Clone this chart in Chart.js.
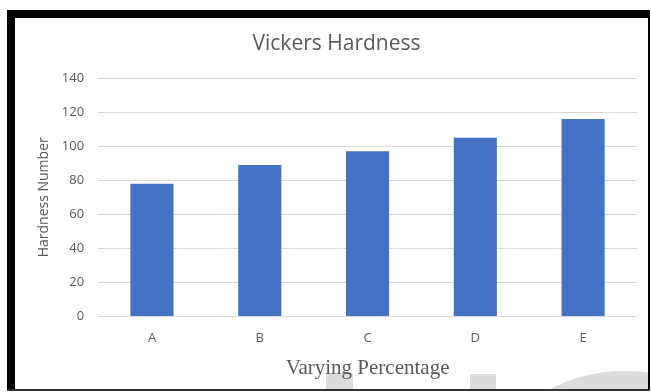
<!DOCTYPE html>
<html>
<head>
<meta charset="utf-8">
<script src="https://cdn.jsdelivr.net/npm/chart.js@4"></script>
<style>
  html, body { margin: 0; padding: 0; background: #fff; }
  #wrap { position: relative; width: 651px; height: 392px; }
  canvas { display: block; }
</style>
</head>
<body>
<div id="wrap"><canvas id="c" width="651" height="392"></canvas></div>
<script>
// Vickers hardness per sample
const categories = ['A', 'B', 'C', 'D', 'E'];
const hardness = [78, 89, 97, 105, 116];
const yTicks = [0, 20, 40, 60, 80, 100, 120, 140];

const textGray = '#595959';
const gridGray = '#d9d9d9';
const barBlue = '#4472C4';

// Light background shapes and the black frame around the figure
const framePlugin = {
  id: 'frame',
  beforeDraw(chart) {
    const ctx = chart.ctx;
    ctx.save();
    ctx.fillStyle = '#fff';
    ctx.fillRect(0, 0, chart.width, chart.height);
    ctx.fillStyle = '#dcdcdc';
    ctx.fillRect(326, 373, 27, 20);
    ctx.fillRect(470, 374, 26, 20);
    ctx.beginPath();
    ctx.ellipse(625, 440, 110, 69, 0, 0, Math.PI * 2);
    ctx.fill();
    ctx.restore();
  },
  afterDraw(chart) {
    const ctx = chart.ctx;
    ctx.save();
    // white strip above the frame
    ctx.fillStyle = '#fff';
    ctx.fillRect(0, 0, chart.width, 10);
    ctx.fillRect(0, 0, 7, chart.height);
    ctx.fillStyle = '#000';
    ctx.fillRect(7, 10, 644, 8);   // top edge
    ctx.fillRect(7, 10, 8, 382);   // left edge
    ctx.fillRect(648, 10, 2, 382); // right edge
    ctx.fillStyle = '#333';
    ctx.fillRect(7, 389, 643, 2);  // bottom edge
    ctx.fillStyle = '#fff';
    ctx.fillRect(650, 0, 1, chart.height);
    ctx.fillRect(0, 391, chart.width, 1);
    ctx.restore();
  }
};

new Chart(document.getElementById('c'), {
  type: 'bar',
  data: {
    labels: categories,
    datasets: [{
      label: 'Hardness Number',
      data: hardness,
      backgroundColor: barBlue,
      borderWidth: 0,
      categoryPercentage: 1.0,
      barPercentage: 0.4
    }]
  },
  options: {
    responsive: false,
    animation: false,
    devicePixelRatio: 1,
    layout: { padding: { left: 36, right: 14, top: 22, bottom: 13 } },
    plugins: {
      legend: { display: false },
      tooltip: { enabled: false },
      title: {
        display: true,
        text: 'Vickers Hardness',
        color: textGray,
        font: { family: 'Open Sans', size: 21, weight: 'normal' },
        padding: { top: 9, bottom: 22 }
      }
    },
    scales: {
      x: {
        grid: { display: false, drawTicks: false },
        border: { display: false },
        ticks: {
          color: textGray,
          font: { family: 'Open Sans', size: 13 },
          padding: 14
        },
        title: {
          display: true,
          text: 'Varying Percentage',
          color: textGray,
          font: { family: 'Liberation Serif', size: 21, lineHeight: 1.0 },
          padding: { top: -2, bottom: 0 }
        }
      },
      y: {
        min: 0,
        max: 140,
        afterBuildTicks(scale) {
          scale.ticks = yTicks.map(v => ({ value: v }));
        },
        grid: { color: gridGray, lineWidth: 1, drawTicks: false },
        border: { display: false },
        ticks: {
          color: textGray,
          font: { family: 'Open Sans', size: 13 },
          padding: 14
        },
        title: {
          display: true,
          text: 'Hardness Number',
          color: textGray,
          font: { family: 'Open Sans', size: 14 },
          padding: { top: 0, bottom: -5 }
        }
      }
    }
  },
  plugins: [framePlugin]
});
</script>
</body>
</html>
